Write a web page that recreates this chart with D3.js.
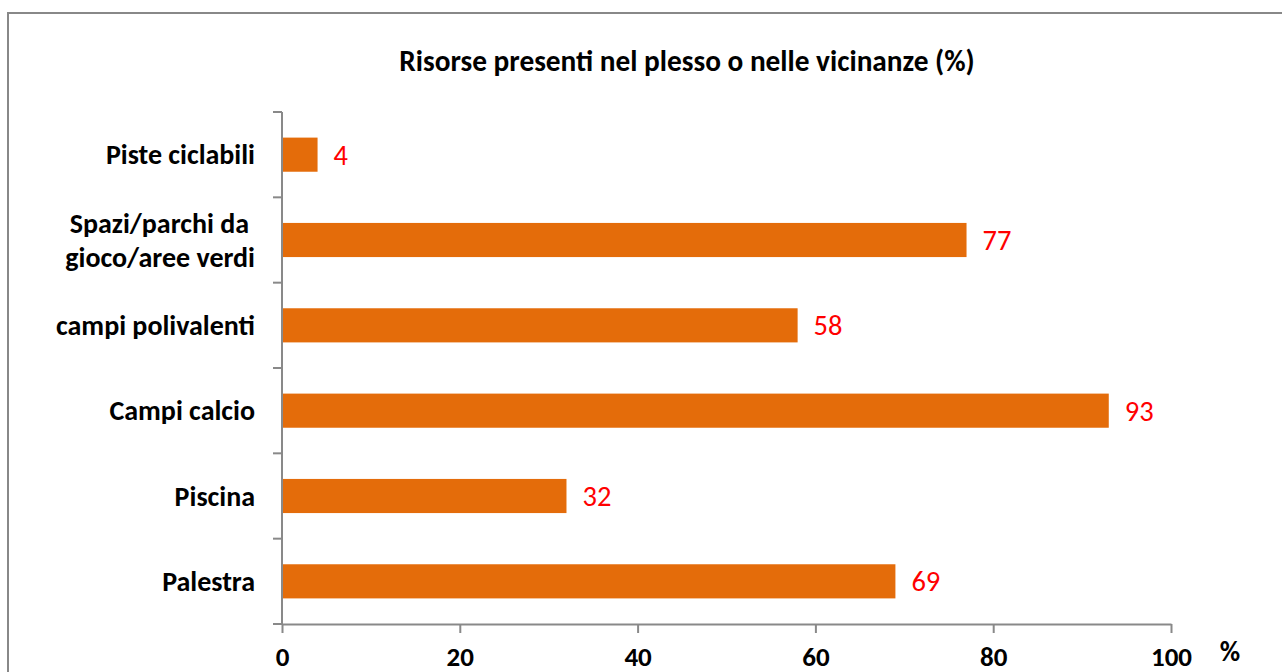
<!DOCTYPE html>
<html>
<head>
<meta charset="utf-8">
<script src="https://cdn.jsdelivr.net/npm/d3@7"></script>
<style>
  html, body { margin: 0; padding: 0; background: #fff; }
  svg { display: block; }
  text { font-family: Carlito, Calibri, Lato, "Open Sans", sans-serif; }
</style>
</head>
<body>
<svg id="chart" width="1282" height="672"></svg>
<script>
// ---- data ----
const categories = [
  "Piste ciclabili",
  "Spazi/parchi da gioco/aree verdi",
  "campi polivalenti",
  "Campi calcio",
  "Piscina",
  "Palestra"
];
const categoryLines = [
  ["Piste ciclabili"],
  ["Spazi/parchi da", "gioco/aree verdi"],
  ["campi polivalenti"],
  ["Campi calcio"],
  ["Piscina"],
  ["Palestra"]
];
const values = [4, 77, 58, 93, 32, 69];
const xTicks = [0, 20, 40, 60, 80, 100];
const titleText = "Risorse presenti nel plesso o nelle vicinanze (%)";
const xUnit = "%";

// ---- layout ----
const svg = d3.select("#chart");
const W = 1282, H = 672;
const plot = { left: 282, right: 1171, top: 112, bottom: 624 };
const axisColor = "#898989";
const barColor = "#E46C0A";
const labelColor = "#FF0000";
const fsTitle = 29.3, fsCat = 28, fsVal = 28.5, fsTick = 27;

// outer frame
svg.append("rect")
  .attr("x", 8).attr("y", 13)
  .attr("width", W + 20).attr("height", H + 20)
  .attr("fill", "none").attr("stroke", "#888").attr("stroke-width", 2);

const x = d3.scaleLinear().domain([0, 100]).range([plot.left, plot.right]);
const y = d3.scaleBand().domain(categories).range([plot.top, plot.bottom])
  .paddingInner(0.6).paddingOuter(0.3);

// title
svg.append("text")
  .attr("x", 687).attr("y", 71)
  .attr("text-anchor", "middle")
  .attr("font-weight", "bold").attr("font-size", fsTitle)
  .attr("fill", "#000")
  .text(titleText);

// bars
svg.append("g").selectAll("rect")
  .data(categories)
  .join("rect")
  .attr("x", x(0))
  .attr("y", d => y(d))
  .attr("width", (d, i) => x(values[i]) - x(0))
  .attr("height", y.bandwidth())
  .attr("fill", barColor);

// value labels
svg.append("g").selectAll("text")
  .data(categories)
  .join("text")
  .attr("x", (d, i) => x(values[i]) + 16)
  .attr("y", d => y(d) + y.bandwidth() / 2)
  .attr("dy", "0.35em")
  .attr("font-size", fsVal)
  .attr("fill", labelColor)
  .text((d, i) => values[i]);

// x axis
const xAxis = d3.axisBottom(x).tickValues(xTicks).tickSize(9).tickPadding(12).tickSizeOuter(0);
const gx = svg.append("g").attr("transform", `translate(0,${plot.bottom})`).call(xAxis);
gx.select(".domain").attr("stroke", axisColor).attr("stroke-width", 2);
gx.selectAll(".tick line").attr("stroke", axisColor).attr("stroke-width", 2);
gx.selectAll(".tick text")
  .attr("font-family", null)
  .attr("y", 42).attr("dy", 0)
  .attr("font-size", fsTick).attr("font-weight", "bold").attr("fill", "#000");

// unit label
svg.append("text")
  .attr("x", 1230).attr("y", 661)
  .attr("text-anchor", "middle")
  .attr("font-size", fsCat).attr("font-weight", "bold")
  .text(xUnit);

// y axis: line + ticks at band boundaries
const step = y.step();
const y0 = y.range()[0];
const boundaries = d3.range(categories.length + 1).map(i => y0 + i * step);
const gy = svg.append("g");
gy.append("line")
  .attr("x1", x(0)).attr("x2", x(0))
  .attr("y1", y0).attr("y2", plot.bottom)
  .attr("stroke", axisColor).attr("stroke-width", 2);
gy.selectAll("line.tk").data(boundaries).join("line")
  .attr("class", "tk")
  .attr("x1", x(0) - 9).attr("x2", x(0))
  .attr("y1", d => d).attr("y2", d => d)
  .attr("stroke", axisColor).attr("stroke-width", 2);

// y category labels
const lineH = 34;
gy.selectAll("text.cat").data(categories).join("text")
  .attr("class", "cat")
  .attr("text-anchor", "end")
  .attr("font-size", fsCat).attr("font-weight", "bold").attr("fill", "#000")
  .each(function(d, i) {
    const lines = categoryLines[i];
    const cy = y(d) + y.bandwidth() / 2;
    const t = d3.select(this);
    lines.forEach((ln, j) => {
      t.append("tspan")
        .attr("x", x(0) - 27 - (lines.length > 1 && j === 0 ? 6 : 0))
        .attr("y", cy + (j - (lines.length - 1) / 2) * lineH)
        .attr("dy", "0.35em")
        .text(ln);
    });
  });
</script>
</body>
</html>
